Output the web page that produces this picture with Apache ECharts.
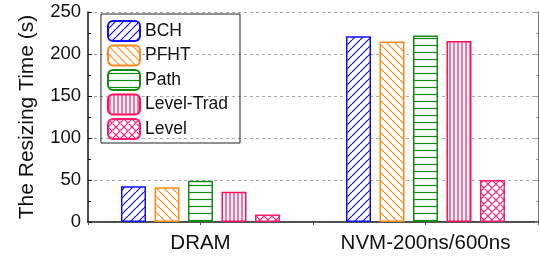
<!DOCTYPE html>
<html>
<head>
<meta charset="utf-8">
<script src="https://cdn.jsdelivr.net/npm/echarts@6/dist/echarts.min.js"></script>
<style>
  html, body { margin: 0; padding: 0; background: #fff; }
  #main { width: 539px; height: 258px; }
</style>
</head>
<body>
<div id="main"></div>
<script>
// data
var categories = ['DRAM', 'NVM-200ns/600ns'];
var seriesNames = ['BCH', 'PFHT', 'Path', 'Level-Trad', 'Level'];
var bchValues = [42.5, 221];
var pfhtValues = [41.5, 215];
var pathValues = [49, 222];
var levelTradValues = [36, 215.5];
var levelValues = [9, 50];
var yTicks = [0, 50, 100, 150, 200, 250];

var colors = ['#1010ff', '#ff8a1a', '#138a13', '#ff1060', '#ff1a70'];
var patterns = ['slash', 'backslash', 'horizontal', 'vertical', 'cross'];

// canvas hatch tiles
function makeHatch(kind, color) {
  var size = kind === 'vertical' ? 4 : (kind === 'horizontal' ? 7 : 8);
  var c = document.createElement('canvas');
  c.width = size; c.height = size;
  var ctx = c.getContext('2d');
  ctx.fillStyle = '#fff';
  ctx.fillRect(0, 0, size, size);
  ctx.strokeStyle = color;
  ctx.lineWidth = 1.2;
  ctx.beginPath();
  if (kind === 'slash' || kind === 'cross') {
    for (var o = -size; o <= size; o += size) {
      ctx.moveTo(o, size); ctx.lineTo(o + size, 0);
    }
  }
  if (kind === 'backslash' || kind === 'cross') {
    for (var o2 = -size; o2 <= size; o2 += size) {
      ctx.moveTo(o2, 0); ctx.lineTo(o2 + size, size);
    }
  }
  if (kind === 'horizontal') {
    ctx.moveTo(0, 3.5); ctx.lineTo(size, 3.5);
  }
  if (kind === 'vertical') {
    ctx.moveTo(2, 0); ctx.lineTo(2, size);
  }
  ctx.stroke();
  return c;
}

var allValues = [bchValues, pfhtValues, pathValues, levelTradValues, levelValues];
var font = '"Liberation Sans", Arial, sans-serif';

var series = seriesNames.map(function (name, i) {
  return {
    name: name,
    type: 'bar',
    data: allValues[i],
    barWidth: 25,
    barGap: '34%',
    itemStyle: {
      color: { image: makeHatch(patterns[i], colors[i]), repeat: 'repeat' },
      borderColor: colors[i],
      borderWidth: 1.5
    }
  };
});

var myChart = echarts.init(document.getElementById('main'));
myChart.setOption({
  animation: false,
  grid: { left: 88, right: 1, top: 12, bottom: 36 },
  legend: {
    left: 101, top: 14,
    orient: 'vertical',
    itemWidth: 32, itemHeight: 20, itemGap: 2.5,
    padding: [6, 12, 3, 6],
    borderColor: '#222', borderWidth: 1,
    textStyle: { fontFamily: font, fontSize: 17.5, color: '#111' },
    data: seriesNames
  },
  xAxis: [{
    type: 'category',
    data: categories,
    axisLine: { lineStyle: { color: '#111', width: 1.5 } },
    axisTick: { show: true, length: 3, lineStyle: { color: '#111' } },
    axisLabel: { fontFamily: font, fontSize: 20.5, color: '#111', margin: 11 }
  }, {
    type: 'value',
    min: 0, max: 4, interval: 1,
    position: 'top',
    axisLine: { show: true, lineStyle: { color: '#555', width: 1 } },
    axisTick: { show: true, inside: true, length: 3, lineStyle: { color: '#555' } },
    axisLabel: { show: false },
    splitLine: { show: false }
  }],
  yAxis: [{
    type: 'value',
    min: yTicks[0], max: yTicks[yTicks.length - 1], interval: 50,
    name: 'The Resizing Time (s)',
    nameLocation: 'middle',
    nameGap: 50,
    nameTextStyle: { fontFamily: font, fontSize: 21, color: '#111' },
    axisLine: { show: true, lineStyle: { color: '#111', width: 1.5 } },
    axisTick: { show: true, inside: true, length: 4, lineStyle: { color: '#111' } },
    minorTick: { show: true, splitNumber: 2, length: 3, lineStyle: { color: '#111' } },
    axisLabel: { fontFamily: font, fontSize: 18.5, color: '#111', margin: 7 },
    splitLine: { show: true, lineStyle: { color: '#aaa', type: [3, 3], width: 1 } }
  }, {
    type: 'value',
    min: yTicks[0], max: yTicks[yTicks.length - 1], interval: 50,
    position: 'right',
    axisLine: { show: true, lineStyle: { color: '#777', width: 1 } },
    axisTick: { show: true, inside: true, length: 3, lineStyle: { color: '#999' } },
    minorTick: { show: true, splitNumber: 2, length: 2, lineStyle: { color: '#999' } },
    axisLabel: { show: false },
    splitLine: { show: false }
  }],
  series: series
});
</script>
</body>
</html>
